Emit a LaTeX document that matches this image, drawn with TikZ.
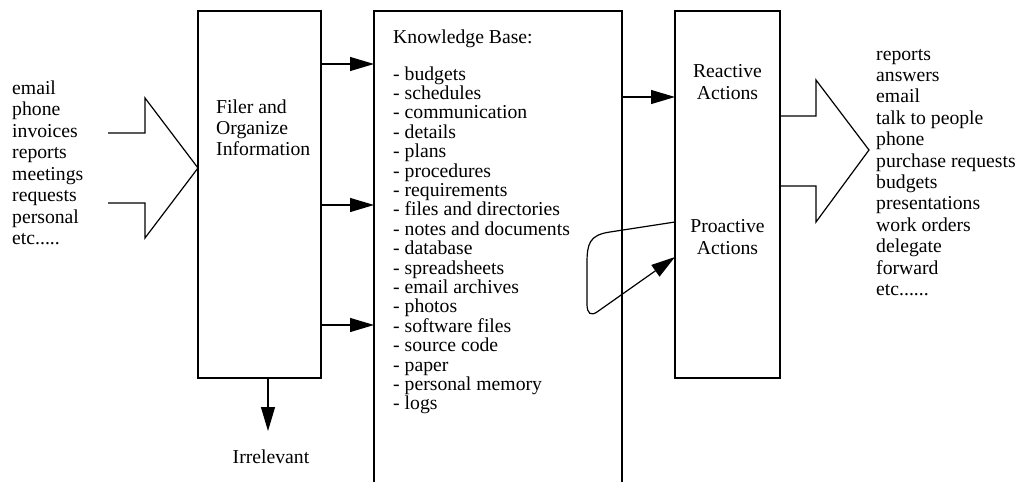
\documentclass[tikz,border=0pt]{standalone}
\usepackage{fontspec}
\setmainfont{Liberation Serif}
\usetikzlibrary{arrows.meta}
\newcommand\inetc{etc.....}
\newcommand\outetc{etc......}
\begin{document}
\begin{tikzpicture}[x=1pt,y=-1pt,
  txt/.style={font=\fontsize{19.7}{21.5}\selectfont, inner sep=0pt, anchor=base west},
  ctr/.style={font=\fontsize{19.7}{21.5}\selectfont, inner sep=0pt, anchor=base},
  box/.style={draw, line width=1.2pt, inner sep=0pt, outer sep=0pt},
  link/.style={line width=1.2pt, -{Triangle[length=24pt,width=14pt]}},
  fat/.style={line width=1.2pt, line join=miter}]
\useasboundingbox (0,0) rectangle (1021,482);

% the three blocks (the knowledge base runs off the bottom edge)
\node[box, minimum width=123pt, minimum height=367pt] (filer) at (259.5,194.5) {};
\node[box, minimum width=248pt, minimum height=509pt] (kb) at (498,265.5) {};
\node[box, minimum width=105pt, minimum height=367pt] (act) at (727.5,194.5) {};

% incoming items and the broad input arrow
\foreach \w [count=\i from 0] in {email,phone,invoices,reports,meetings,requests,personal,\inetc}
  \node[txt] (in\i) at (12,{94+21.5*\i}) {\w};
\draw[fat] (108,133) -- (145,133) -- (145,98) -- (filer.west |- 0,168)
  -- (145,238) -- (145,203) -- (108,203);

% filer label
\node[txt] (f1) at (216,113) {Filer and};
\node[txt] (f2) at (216,134) {Organize};
\node[txt] (f3) at (216,155) {Information};

% filer to knowledge base
\foreach \y in {64,205,325}
  \draw[link] (filer.east |- 0,\y) -- (kb.west |- 0,\y);

% discarded material
\node[ctr] (irr) at (271,463) {Irrelevant};
\draw[link] (filer.south -| 268,0) -- (268,431) coordinate (irrtip);

% knowledge base contents
\node[txt] (kbh) at (393,43) {Knowledge Base:};
\foreach \w [count=\i from 0] in {budgets,schedules,communication,details,plans,procedures,
  requirements,files and directories,notes and documents,database,spreadsheets,
  email archives,photos,software files,source code,paper,personal memory,logs}
  \node[txt] (kb\i) at (393,{80+19.4*\i}) {- \w};

% actions
\node[ctr] (r1) at (727.5,77) {Reactive};
\node[ctr] (r2) at (727.5,99) {Actions};
\node[ctr] (p1) at (727.5,232) {Proactive};
\node[ctr] (p2) at (727.5,254) {Actions};
\draw[link] (kb.east |- 0,97) -- (act.west |- 0,97);

% feedback loop into proactive actions
\coordinate (loopA) at (act.west |- 0,222);
\coordinate (loopB) at (act.west |- 0,257);
\draw[link] (loopA) -- (610,232) .. controls (589,235) and (587,244) .. (587,264)
  -- (587,304) .. controls (587,314) and (591,316) .. (597,312) -- (loopB);

% output arrow and results
\draw[fat] (act.east |- 0,116) -- (816,116) -- (816,80) -- (869,150)
  -- (816,222) -- (816,186) -- (act.east |- 0,186);
\foreach \w [count=\i from 0] in {reports,answers,email,talk to people,phone,purchase requests,
  budgets,presentations,work orders,delegate,forward,\outetc}
  \node[txt] (out\i) at (876,{60+21.4*\i}) {\w};
\end{tikzpicture}
\end{document}
